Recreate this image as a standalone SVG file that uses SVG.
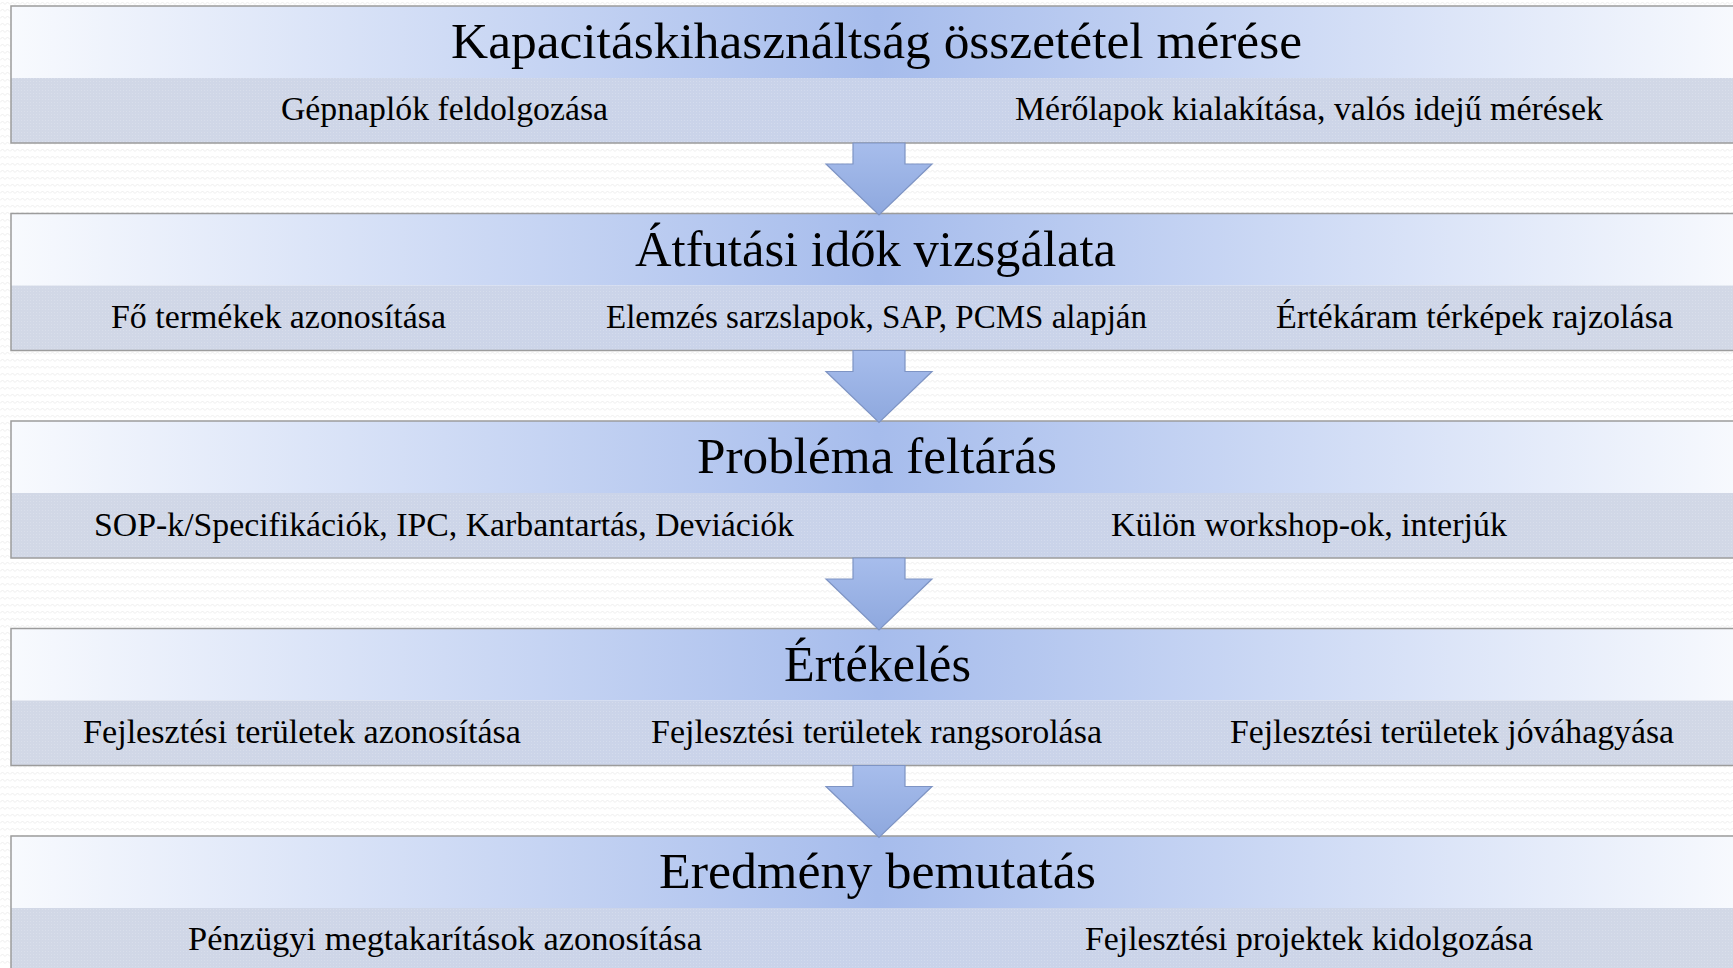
<svg xmlns="http://www.w3.org/2000/svg" width="1733" height="968" viewBox="0 0 1733 968">
<style>
.hdr{fill:url(#hdrGrad);}
.sub{fill:url(#subGrad);}
.dots{fill:url(#dotPat);}
.frame{fill:none;stroke:#9C9C9C;stroke-width:1.5;}
.title{font-family:"Liberation Serif","DejaVu Serif",serif;font-size:50px;fill:#000;text-anchor:middle;}
.item{font-family:"Liberation Serif","DejaVu Serif",serif;font-size:34px;fill:#000;text-anchor:middle;}
.arrow{fill:url(#arrGrad);stroke:#7E94C4;stroke-width:1.2;stroke-linejoin:miter;}
</style>
<defs>
<linearGradient id="hdrGrad" gradientUnits="userSpaceOnUse" x1="11" y1="0" x2="1745" y2="0">
<stop offset="0" stop-color="#F8FAFE"/>
<stop offset="0.5" stop-color="#A6BCEC"/>
<stop offset="1" stop-color="#F8FAFE"/>
</linearGradient>
<linearGradient id="subGrad" gradientUnits="userSpaceOnUse" x1="11" y1="0" x2="1745" y2="0">
<stop offset="0" stop-color="#D2D8E6"/>
<stop offset="0.5" stop-color="#C8D2EA"/>
<stop offset="1" stop-color="#D2D8E6"/>
</linearGradient>
<linearGradient id="arrGrad" x1="0" y1="0" x2="0" y2="1">
<stop offset="0" stop-color="#A7BDEC"/>
<stop offset="1" stop-color="#8EA8DE"/>
</linearGradient>
<pattern id="dotPat" width="3" height="3" patternUnits="userSpaceOnUse">
<rect x="0" y="0" width="1" height="1" fill="#FFFFFF" fill-opacity="0.18"/>
</pattern>
<pattern id="zig" width="10" height="7" patternUnits="userSpaceOnUse">
<path d="M0,4.5 L2.5,2 L5,4.5 L7.5,2 L10,4.5" fill="none" stroke="#EDEDED" stroke-width="1"/>
</pattern>
</defs>
<rect x="0" y="0" width="1733" height="968" fill="#FFFFFF"/>
<rect x="0" y="0" width="1733" height="968" fill="url(#zig)"/>

<g id="node1">
<rect class="hdr" x="11" y="6" width="1734" height="72"/>
<rect class="sub" x="11" y="78" width="1734" height="65"/>
<rect class="dots" x="11" y="78" width="1734" height="65"/>
<rect class="frame" x="11" y="6" width="1734" height="137"/>
<text class="title" x="876.5" y="58" textLength="851" lengthAdjust="spacingAndGlyphs">Kapacitáskihasználtság összetétel mérése</text>
<text class="item" x="444.5" y="120" textLength="327" lengthAdjust="spacingAndGlyphs">Gépnaplók feldolgozása</text>
<text class="item" x="1309" y="120" textLength="588" lengthAdjust="spacingAndGlyphs">Mérőlapok kialakítása, valós idejű mérések</text>
</g>

<g id="node2">
<rect class="hdr" x="11" y="213.5" width="1734" height="72"/>
<rect class="sub" x="11" y="285.5" width="1734" height="65"/>
<rect class="dots" x="11" y="285.5" width="1734" height="65"/>
<rect class="frame" x="11" y="213.5" width="1734" height="137"/>
<text class="title" x="875.5" y="265.5" textLength="481" lengthAdjust="spacingAndGlyphs">Átfutási idők vizsgálata</text>
<text class="item" x="278.5" y="328" textLength="335" lengthAdjust="spacingAndGlyphs">Fő termékek azonosítása</text>
<text class="item" x="876.5" y="328" textLength="541" lengthAdjust="spacingAndGlyphs">Elemzés sarzslapok, SAP, PCMS alapján</text>
<text class="item" x="1474.5" y="328" textLength="397" lengthAdjust="spacingAndGlyphs">Értékáram térképek rajzolása</text>
</g>

<g id="node3">
<rect class="hdr" x="11" y="421" width="1734" height="72"/>
<rect class="sub" x="11" y="493" width="1734" height="65"/>
<rect class="dots" x="11" y="493" width="1734" height="65"/>
<rect class="frame" x="11" y="421" width="1734" height="137"/>
<text class="title" x="877" y="473" textLength="360" lengthAdjust="spacingAndGlyphs">Probléma feltárás</text>
<text class="item" x="444" y="535.5" textLength="700" lengthAdjust="spacingAndGlyphs">SOP-k/Specifikációk, IPC, Karbantartás, Deviációk</text>
<text class="item" x="1309" y="535.5" textLength="396" lengthAdjust="spacingAndGlyphs">Külön workshop-ok, interjúk</text>
</g>

<g id="node4">
<rect class="hdr" x="11" y="628.5" width="1734" height="72"/>
<rect class="sub" x="11" y="700.5" width="1734" height="65"/>
<rect class="dots" x="11" y="700.5" width="1734" height="65"/>
<rect class="frame" x="11" y="628.5" width="1734" height="137"/>
<text class="title" x="877.5" y="680.5" textLength="187" lengthAdjust="spacingAndGlyphs">Értékelés</text>
<text class="item" x="302" y="742.5" textLength="438" lengthAdjust="spacingAndGlyphs">Fejlesztési területek azonosítása</text>
<text class="item" x="876.5" y="742.5" textLength="451" lengthAdjust="spacingAndGlyphs">Fejlesztési területek rangsorolása</text>
<text class="item" x="1452" y="742.5" textLength="444" lengthAdjust="spacingAndGlyphs">Fejlesztési területek jóváhagyása</text>
</g>

<g id="node5">
<rect class="hdr" x="11" y="836" width="1734" height="72"/>
<rect class="sub" x="11" y="908" width="1734" height="65"/>
<rect class="dots" x="11" y="908" width="1734" height="65"/>
<rect class="frame" x="11" y="836" width="1734" height="137"/>
<text class="title" x="877.5" y="888" textLength="437" lengthAdjust="spacingAndGlyphs">Eredmény bemutatás</text>
<text class="item" x="445" y="950" textLength="514" lengthAdjust="spacingAndGlyphs">Pénzügyi megtakarítások azonosítása</text>
<text class="item" x="1309" y="950" textLength="448" lengthAdjust="spacingAndGlyphs">Fejlesztési projektek kidolgozása</text>
</g>

<g id="connectors">
<path class="arrow" d="M853,143 L905,143 L905,164 L932,164 L879,215 L826,164 L853,164 Z"/>
<path class="arrow" d="M853,350.5 L905,350.5 L905,371.5 L932,371.5 L879,422.5 L826,371.5 L853,371.5 Z"/>
<path class="arrow" d="M853,558 L905,558 L905,579 L932,579 L879,630 L826,579 L853,579 Z"/>
<path class="arrow" d="M853,765.5 L905,765.5 L905,786.5 L932,786.5 L879,837.5 L826,786.5 L853,786.5 Z"/>
</g>
</svg>
